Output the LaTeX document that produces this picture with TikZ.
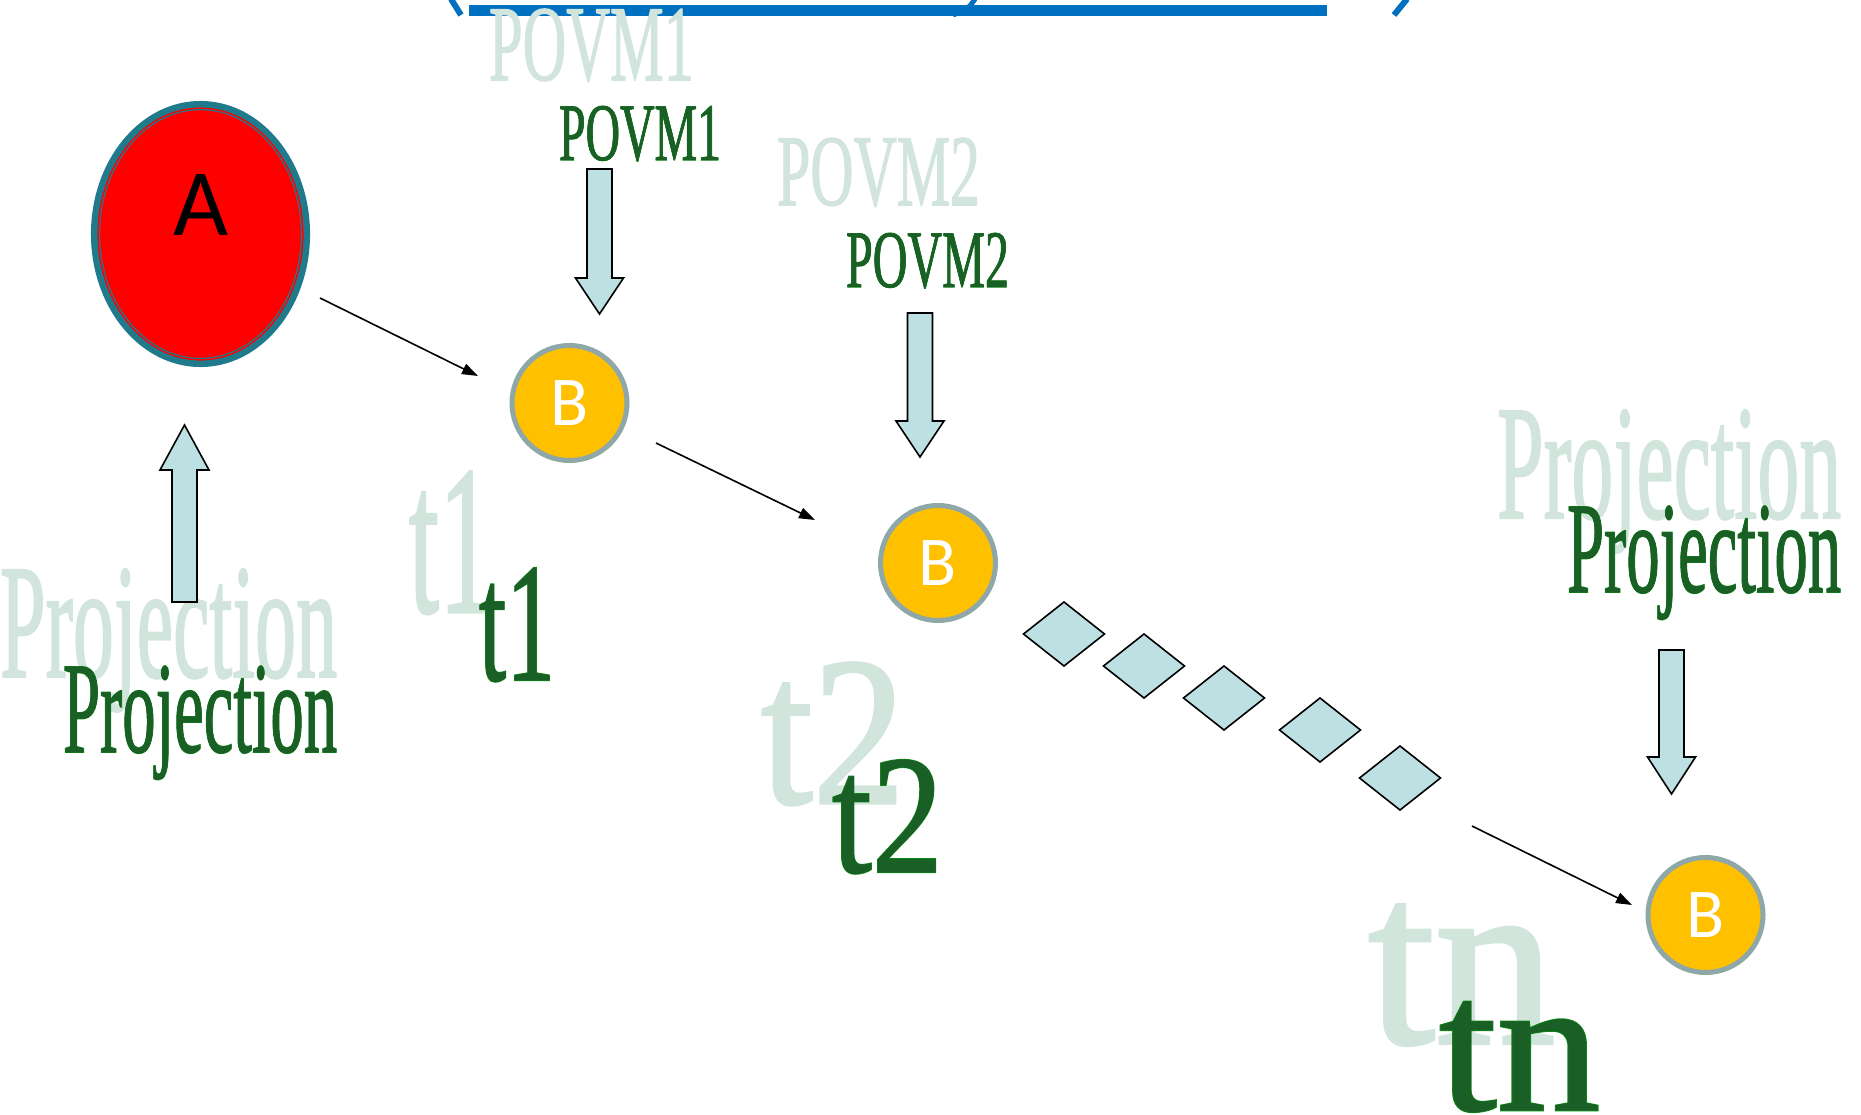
\documentclass[tikz,border=0pt]{standalone}
\usepackage{fontspec}
\usepackage{graphicx}
\usetikzlibrary{arrows.meta,shapes.geometric}

\newfontfamily\wafont[FakeBold=1.5]{Liberation Serif}
\newfontfamily\wafontedge[FakeBold=1.3]{Liberation Serif}
\newfontfamily\wafontcore[FakeBold=0.5]{Liberation Serif}
\newfontfamily\lblfont{Carlito}

\definecolor{ghost}{HTML}{D2E5DC}
\definecolor{wagreen}{HTML}{1A5F26}
\definecolor{waedge}{HTML}{0E8A16}
\definecolor{titleblue}{HTML}{0070C0}
\definecolor{redfill}{HTML}{FF0000}
\definecolor{rimteal}{HTML}{1F7A8C}
\definecolor{borange}{HTML}{FFC000}
\definecolor{bgray}{HTML}{8EA7A9}
\definecolor{paleblue}{HTML}{BDE0E3}

% stretched word-art text: width, height (top of glyphs to baseline), text
\newcommand\wordart[3]{\resizebox{#1pt}{#2pt}{\wafont #3}}
% green word-art: bright rim under a darker core
\newcommand\greenart[3]{\rlap{\color{waedge}\resizebox{#1pt}{#2pt}{\wafontedge #3}}%
  \resizebox{#1pt}{#2pt}{\color{wagreen}\wafontcore #3}}

\begin{document}
\begin{tikzpicture}[x=1pt,y=-1pt,
  wa/.style={anchor=base west, inner sep=0pt, outer sep=0pt},
  ghosttext/.style={wa, text=ghost},
  greentext/.style={wa},
  bnode/.style={circle, draw=bgray, line width=5pt, fill=borange,
    minimum size=115pt, inner sep=0pt, text=white,
    font=\lblfont\fontsize{70}{70}\selectfont},
  conn/.style={-{Triangle[length=16pt,width=11pt]}, line width=1.6pt, black},
  blk/.style={draw=black, line width=1.6pt, fill=paleblue, line join=miter},
  dmd/.style={draw=black, line width=1.6pt, fill=paleblue, line join=miter},
]
\useasboundingbox (0,0) rectangle (1861,1115);

% title rule with the cut-off glyph strokes above it
\fill[titleblue] (469,5) rectangle (1327,16);
\draw[titleblue, line width=6pt] (451,-1) -- (461,15);
\draw[titleblue, line width=5pt] (975,-1) .. controls (968,9) .. (953,15);
\draw[titleblue, line width=6pt] (1407,-1) -- (1394,15);

% pale background lettering
\node[ghosttext] (gPOVM1) at (489,80)   {\wordart{205}{71}{POVM1}};
\node[ghosttext] (gPOVM2) at (777,205)  {\wordart{203}{67}{POVM2}};
\node[ghosttext] (gProjL) at (0,677)    {\wordart{337}{108}{Projection}};
\node[ghosttext] (gProjR) at (1497,518) {\wordart{344}{108}{Projection}};
\node[ghosttext] (gt1)    at (409,612)  {\wordart{84}{140}{t1}};
\node[ghosttext] (gt2)    at (761,803)  {\wordart{144}{140}{t2}};
\node[ghosttext] (gtn)    at (1368,1043){\wordart{187}{138}{tn}};

% state A
\node[ellipse, draw=rimteal, line width=6.7pt, fill=redfill,
      minimum width=212.4pt, minimum height=259.4pt, inner sep=0pt] (A) at (200.5,234) {};
\draw[redfill, line width=1.4pt] (A.center) ellipse [x radius=102.2pt, y radius=125.7pt];
\draw[rimteal, line width=1.2pt] (A.center) ellipse [x radius=100.9pt, y radius=124.4pt];
\node[anchor=base, inner sep=0pt, font=\lblfont\fontsize{95}{95}\selectfont] (Atext) at (200.5,236) {A};

% states B
\node[bnode] (B1) at (569.5,403) {B};
\node[bnode] (B2) at (938,563)   {B};
\node[bnode] (B3) at (1705.5,915) {B};

% transitions
\coordinate (a1s) at (320,298);  \coordinate (a1e) at (478,376);
\coordinate (a2s) at (656,443);  \coordinate (a2e) at (815,520);
\coordinate (a3s) at (1472,826); \coordinate (a3e) at (1632,905);
\draw[conn] (a1s) -- (a1e);
\draw[conn] (a2s) -- (a2e);
\draw[conn] (a3s) -- (a3e);

% block arrows
\draw[blk, shift={(599.5,169)}] (-12.5,0) -- (12.5,0) -- (12.5,109) -- (24,109) -- (0,145) -- (-24,109) -- (-12.5,109) -- cycle;
\draw[blk, shift={(920,313)}] (-12.5,0) -- (12.5,0) -- (12.5,108) -- (24,108) -- (0,144) -- (-24,108) -- (-12.5,108) -- cycle;
\draw[blk, shift={(1671.5,650)}] (-12.5,0) -- (12.5,0) -- (12.5,107) -- (24,107) -- (0,144) -- (-24,107) -- (-12.5,107) -- cycle;
\draw[blk, shift={(184.5,602)}] (-12.5,0) -- (12.5,0) -- (12.5,-132) -- (24.5,-132) -- (0,-177) -- (-24.5,-132) -- (-12.5,-132) -- cycle;

% ellipsis diamonds
\foreach \cx/\cy in {1064/634, 1144/666, 1224/698, 1320/730, 1400/778}
  \draw[dmd, shift={(\cx,\cy)}] (-40.5,0) -- (0,-32) -- (40.5,0) -- (0,32) -- cycle;

% green lettering
\node[greentext] (POVM1) at (559,160)  {\greenart{162}{54}{POVM1}};
\node[greentext] (POVM2) at (846,287)  {\greenart{163}{54}{POVM2}};
\node[greentext] (ProjL) at (63,752)   {\greenart{274}{86}{Projection}};
\node[greentext] (ProjR) at (1567,592) {\greenart{274}{86}{Projection}};
\node[greentext] (t1)    at (479,680)  {\greenart{76}{112}{t1}};
\node[greentext] (t2)    at (832,872)  {\greenart{111}{112}{t2}};
\node[greentext] (tn)    at (1439,1110){\greenart{161}{108}{tn}};
\end{tikzpicture}
\end{document}
